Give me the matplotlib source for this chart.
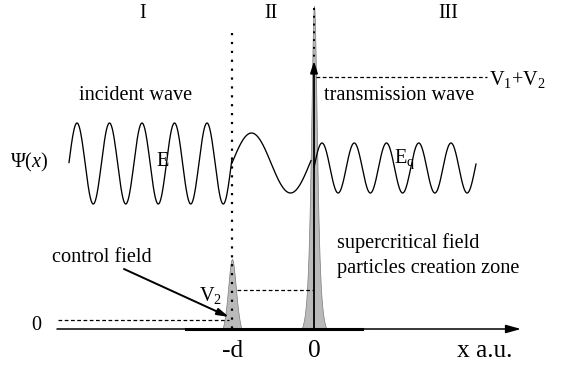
import numpy as np
import matplotlib
matplotlib.use('Agg')
import matplotlib.pyplot as plt

plt.rcParams['font.family'] = ['Liberation Serif', 'DejaVu Serif']
plt.rcParams['mathtext.fontset'] = 'custom'
plt.rcParams['mathtext.rm'] = 'Liberation Serif'
plt.rcParams['mathtext.it'] = 'Liberation Serif:italic'

# ---- schematic data (diagram units: x to the right, y downward, baseline at 329) ----
baseline = 329
# wave pieces: x-range, centre, amplitude, period, position of a crest
wave_I_x = [69, 232];  wave_I_center = 163.5; wave_I_amp = 40.5; wave_I_period = 32.5;  wave_I_crest = 77
wave_II_x = [232, 311]; wave_II_center = 163;  wave_II_amp = 30;   wave_II_period = 78;   wave_II_crest = 251.5
wave_III_x = [314, 476]; wave_III_center = 168; wave_III_amp = 25;  wave_III_period = 32.25; wave_III_crest = 322
# potential peaks: position, height, shape width, half base width
control_peak = [232, 70, 8.0, 9.5]
super_peak = [314, 323, 5.5, 12.5]
# levels
zero_level = 320
v2_level = 290
v12_level = 77

fig = plt.figure(figsize=(5.61, 3.66), dpi=100)
ax = fig.add_axes([0, 0, 1, 1])
ax.set_xlim(0, 561)
ax.set_ylim(366, 0)
ax.axis('off')

def wave(xr, c, a, T, crest):
    x = np.linspace(xr[0], xr[1], 400)
    return x, c - a * np.cos(2 * np.pi * (x - crest) / T)

for p in [(wave_I_x, wave_I_center, wave_I_amp, wave_I_period, wave_I_crest),
          (wave_II_x, wave_II_center, wave_II_amp, wave_II_period, wave_II_crest),
          (wave_III_x, wave_III_center, wave_III_amp, wave_III_period, wave_III_crest)]:
    x, y = wave(*p)
    ax.plot(x, y, color='black', lw=0.95, zorder=3)

# peaks
def g(x, a):
    return 1.0 / (1 + (x / a) ** 2) ** 2

for pos, h, a, w in [control_peak, super_peak]:
    x = np.linspace(pos - w, pos + w, 400)
    prof = (g(x - pos, a) - g(w, a)) / (1 - g(w, a))
    y = baseline - h * prof
    ax.fill_between(x, baseline, y, facecolor='#bababa', edgecolor='#7a7a7a', lw=0.5, zorder=2)

# x axis
ax.plot([186, 362], [baseline, baseline], color='black', lw=2.2, zorder=4)
ax.annotate('', xy=(521, baseline), xytext=(57, baseline),
            arrowprops=dict(arrowstyle='-|>,head_length=0.9,head_width=0.25', color='black', lw=1.1,
                            shrinkA=0, shrinkB=0), zorder=4)

# dotted verticals
ax.plot([232, 232], [33, baseline], color='black', lw=1.6, ls=(0, (1, 3)), zorder=5)
ax.plot([314, 314], [8, 62], color='black', lw=1.4, ls=(0, (1, 3)), zorder=5)
# arrow at x = 0
ax.annotate('', xy=(314, 61), xytext=(314, baseline),
            arrowprops=dict(arrowstyle='-|>,head_length=0.7,head_width=0.22', color='black', lw=1.3,
                            shrinkA=0, shrinkB=0), zorder=5)

# dashed levels
dash = (0, (3, 2))
ax.plot([58, 229], [zero_level, zero_level], color='black', lw=0.9, ls=dash)
ax.plot([237, 314], [v2_level, v2_level], color='black', lw=0.9, ls=dash)
ax.plot([316, 487], [v12_level, v12_level], color='black', lw=0.9, ls=dash)

# control field arrow
ax.annotate('', xy=(229, 317), xytext=(124, 269),
            arrowprops=dict(arrowstyle='-|>,head_length=0.7,head_width=0.2', color='black', lw=1.4,
                            shrinkA=0, shrinkB=0), zorder=6)

fs = 14.6
ax.text(143, 13, 'I', fontsize=fs, ha='center', va='center')
ax.text(271, 13, 'II', fontsize=fs, ha='center', va='center')
ax.text(448, 13, 'III', fontsize=fs, ha='center', va='center')
ax.text(136, 95, 'incident wave', fontsize=fs, ha='center', va='center')
ax.text(324, 95, 'transmission wave', fontsize=fs, ha='left', va='center')
ax.text(489, 80, r'V$_1$+V$_2$', fontsize=fs, ha='left', va='center')
ax.text(10, 162, r'$\Psi$($x$)', fontsize=fs, ha='left', va='center')
ax.text(163, 161, 'E', fontsize=fs, ha='center', va='center')
ax.text(394, 159, r'E$_\mathrm{q}$', fontsize=fs, ha='left', va='center')
ax.text(52, 258, 'control field', fontsize=fs, ha='left', va='center')
ax.text(199, 295, r'V$_2$', fontsize=fs, ha='left', va='center')
ax.text(337, 243, 'supercritical field', fontsize=fs, ha='left', va='center')
ax.text(337, 269, 'particles creation zone', fontsize=fs, ha='left', va='center')
ax.text(36, 325, '0', fontsize=fs, ha='center', va='center')
fb = 18.3
ax.text(233, 351, '-d', fontsize=fb, ha='center', va='center')
ax.text(314, 351, '0', fontsize=fb, ha='center', va='center')
ax.text(485, 351, 'x a.u.', fontsize=fb, ha='center', va='center')

fig.savefig('out.png', dpi=100)
